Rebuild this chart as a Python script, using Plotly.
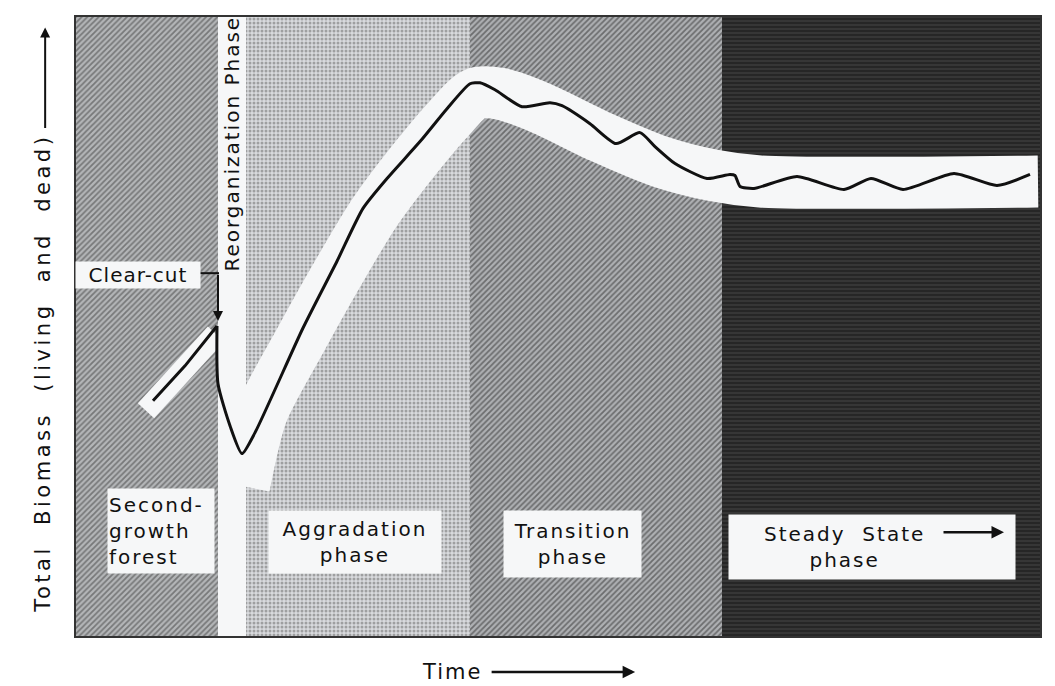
import plotly.graph_objects as go

# ---- data (time units 0..964, biomass units 0..621) ----
phase_start = [0, 142, 170, 394, 646]
phase_end = [142, 170, 394, 646, 964]
phase_shape = ["/", "", ".", "/", "-"]
phase_fg = ["#3a3a3a", "#ffffff", "#646464", "#2a2a2a", "#111111"]
phase_bg = ["#b4b6b8", "#f6f7f8", "#d8dadd", "#aeb0b3", "#363636"]

# black biomass curve
biomass_x = [77, 109, 141, 142, 154, 166, 179, 227, 261, 287, 311, 344, 371, 394, 404, 419,
             446, 474, 486, 514, 540, 564, 579, 599, 631, 654, 659, 664, 678, 721, 768, 795,
             827, 878, 921, 954]
biomass_y = [236, 271, 311, 253, 211, 183, 204, 309, 376, 429, 459, 496, 529, 554, 555, 548,
             531, 535, 532, 514, 494, 505, 491, 474, 459, 463, 462, 451, 449, 461, 448, 459,
             448, 464, 452, 463]

# white envelope band (centre line)
band1_x = [70, 106, 140]
band1_y = [226, 264, 303]
band2_x = [168, 186, 224, 262, 298, 340, 372, 399, 424, 464, 524, 584, 638, 684, 962]
band2_y = [150, 224, 296, 364, 424, 480, 518, 544, 544, 530, 501, 476, 462, 456, 456]

X_MAX, Y_MAX = 964, 621
FONT = "DejaVu Sans"
INK = "#111111"
PAPERW = "#f6f7f8"


def sp(t, ls=2):
    return "<span style='letter-spacing:%spx'>%s</span>" % (ls, t)


fig = go.Figure()

for s, e, shp, fg, bg in zip(phase_start, phase_end, phase_shape, phase_fg, phase_bg):
    fig.add_trace(go.Bar(
        x=[(s + e) / 2], y=[Y_MAX], base=0, width=[e - s],
        marker=dict(color=bg, line=dict(width=0),
                    pattern=dict(shape=shp, fgcolor=fg, bgcolor=bg, size=4, solidity=0.45)),
        hoverinfo="skip", showlegend=False))

fig.add_trace(go.Scatter(x=band1_x, y=band1_y, mode="lines",
                         line=dict(color=PAPERW, width=22), hoverinfo="skip", showlegend=False))
fig.add_trace(go.Scatter(x=band2_x, y=band2_y, mode="lines",
                         line=dict(color=PAPERW, width=52, shape="spline", smoothing=0.8),
                         hoverinfo="skip", showlegend=False))

fig.add_trace(go.Scatter(x=biomass_x[:3], y=biomass_y[:3], mode="lines",
                         line=dict(color=INK, width=3), hoverinfo="skip", showlegend=False))
fig.add_trace(go.Scatter(x=biomass_x[2:], y=biomass_y[2:], mode="lines",
                         line=dict(color=INK, width=3, shape="spline", smoothing=0.6),
                         hoverinfo="skip", showlegend=False))

txt = dict(family=FONT, size=20, color=INK)
ann = []
ann.append(dict(x=85, y=105, text=sp("Second-") + "<br>" + sp("growth") + "<br>" + sp("forest"),
                align="left", bgcolor=PAPERW, width=104, height=82, font=txt))
ann.append(dict(x=279, y=94, text=sp("Aggradation") + "<br>" + sp("phase"), align="center",
                bgcolor=PAPERW, width=170, height=60, font=txt))
ann.append(dict(x=496, y=92, text=sp("Transition") + "<br>" + sp("phase"), align="center",
                bgcolor=PAPERW, width=135, height=64, font=txt))
ann.append(dict(x=796, y=89, text=" ", bgcolor=PAPERW, width=284, height=62, font=txt))
ann.append(dict(x=768, y=89, text=sp("Steady  State") + "<br>" + sp("phase"), align="center", font=txt))
ann.append(dict(x=928, y=104, ax=866, ay=104, axref="x", ayref="y", text="", showarrow=True,
                arrowhead=2, arrowsize=1, arrowwidth=2.5, arrowcolor=INK))
ann.append(dict(x=62, y=362, text=sp("Clear-cut", 1), bgcolor=PAPERW, width=122, height=24, font=txt))
ann.append(dict(x=142, y=316, ax=142, ay=364, axref="x", ayref="y", text="", showarrow=True,
                arrowhead=2, arrowsize=1, arrowwidth=2, arrowcolor=INK))
ann.append(dict(x=156, y=494, text=sp("Reorganization Phase", 2), textangle=-90,
                font=dict(family=FONT, size=20, color=INK)))
for a in ann:
    a.setdefault("xref", "x")
    a.setdefault("yref", "y")
    a.setdefault("showarrow", False)

# outside-plot labels (paper coordinates)
ann.append(dict(xref="paper", yref="paper", x=-0.035, y=0.424, xanchor="center", yanchor="middle",
                showarrow=False, text=sp("Total  Biomass  (living  and  dead)", 3.5), textangle=-90,
                font=dict(family=FONT, size=21, color=INK)))
ann.append(dict(xref="paper", yref="paper", x=-0.032, y=0.983, ax=0, ay=102, text="",
                showarrow=True, arrowhead=2, arrowsize=1, arrowwidth=2, arrowcolor=INK))
ann.append(dict(xref="paper", yref="paper", x=0.39, y=-0.058, xanchor="center", yanchor="middle",
                showarrow=False, text=sp("Time", 2), font=dict(family=FONT, size=21, color=INK)))
ann.append(dict(xref="paper", yref="paper", x=0.580, y=-0.058, ax=-145, ay=0, text="",
                showarrow=True, arrowhead=2, arrowsize=1, arrowwidth=2.5, arrowcolor=INK))
fig.update_layout(annotations=ann)

fig.add_shape(type="line", x0=119, y0=364, x1=143, y1=364, xref="x", yref="y",
              line=dict(color=INK, width=2))

fig.update_layout(
    width=1047, height=678,
    margin=dict(l=68, r=15, t=7, b=50),
    paper_bgcolor="#ffffff", plot_bgcolor=PAPERW,
    barmode="overlay", bargap=0,
    xaxis=dict(range=[0, X_MAX], showgrid=False, zeroline=False, showticklabels=False,
               ticks="", showline=True, mirror=True, linecolor="#333333", linewidth=1.5),
    yaxis=dict(range=[0, Y_MAX], showgrid=False, zeroline=False, showticklabels=False,
               ticks="", showline=True, mirror=True, linecolor="#333333", linewidth=1.5),
    showlegend=False,
)

fig.write_html("out.html")
